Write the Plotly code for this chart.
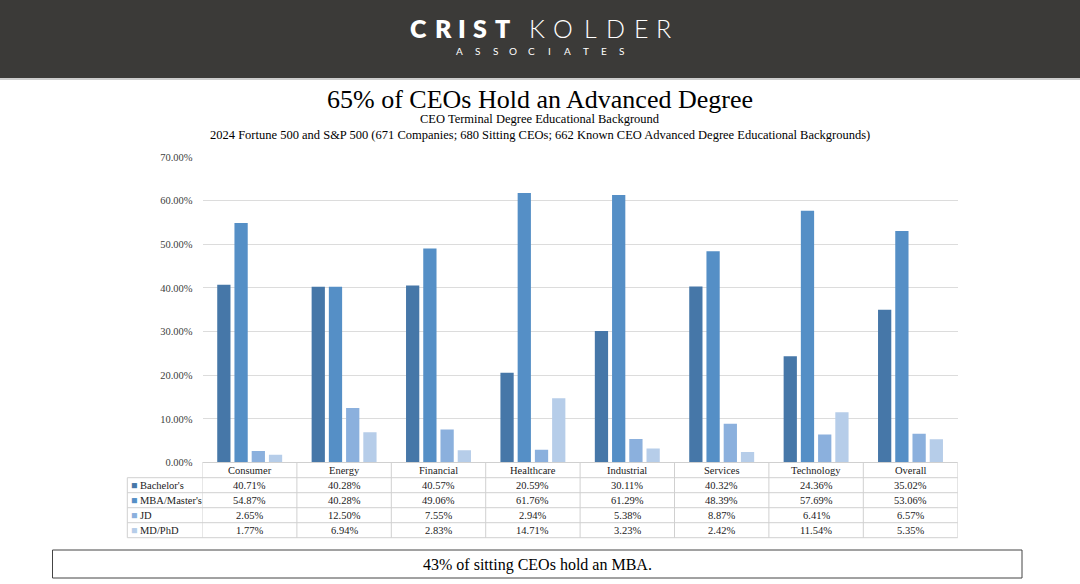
import plotly.graph_objects as go

W, H = 1080, 584

categories = ["Consumer", "Energy", "Financial", "Healthcare", "Industrial", "Services", "Technology", "Overall"]
series_names = ["Bachelor's", "MBA/Master's", "JD", "MD/PhD"]
bachelors = [40.71, 40.28, 40.57, 20.59, 30.11, 40.32, 24.36, 35.02]
mba_masters = [54.87, 40.28, 49.06, 61.76, 61.29, 48.39, 57.69, 53.06]
jd = [2.65, 12.50, 7.55, 2.94, 5.38, 8.87, 6.41, 6.57]
md_phd = [1.77, 6.94, 2.83, 14.71, 3.23, 2.42, 11.54, 5.35]
series_values = [bachelors, mba_masters, jd, md_phd]
colors = ["#4677a8", "#558fc6", "#8bb0dd", "#b6cde9"]
y_ticks = [0, 10, 20, 30, 40, 50, 60, 70]

SERIF = "Liberation Serif, Times New Roman, serif"


def px(x):
    return x / W


def py(y):
    return 1 - y / H


fig = go.Figure()
for name, vals, col in zip(series_names, series_values, colors):
    fig.add_trace(go.Bar(
        x=categories, y=[v / 100 for v in vals], name=name,
        marker=dict(color=col, line=dict(width=0)),
        showlegend=False, hoverinfo="skip",
    ))

x_left, x_right = 202.5, 957.7
y_bottom, y_top = 462.5, 157

fig.update_layout(
    width=W, height=H,
    margin=dict(l=0, r=0, t=0, b=0, autoexpand=False),
    paper_bgcolor="white", plot_bgcolor="white",
    barmode="group", bargap=0.27, bargroupgap=0.23,
    xaxis=dict(domain=[px(x_left), px(x_right)], range=[-0.5, 7.5],
               showticklabels=False, showgrid=False, zeroline=False,
               showline=False, ticks="", fixedrange=True, automargin=False),
    yaxis=dict(domain=[py(y_bottom), py(y_top)], range=[0, 0.7],
               tickvals=[t / 100 for t in y_ticks], tickformat=".2%",
               showgrid=True, gridcolor="#dcdcdc", gridwidth=1,
               zeroline=False, showline=False, ticks="",
               ticklabelstandoff=9, automargin=False,
               tickfont=dict(family=SERIF, size=10.5, color="#404040"),
               fixedrange=True),
    font=dict(family=SERIF),
)

shapes = []
annotations = []

# Header band
shapes.append(dict(type="rect", xref="paper", yref="paper", x0=0, x1=1,
                   y0=py(78), y1=1, fillcolor="#3b3a38", line=dict(width=0), layer="below"))
shapes.append(dict(type="line", xref="paper", yref="paper", x0=0, x1=1,
                   y0=py(79), y1=py(79), line=dict(color="#9a9a9a", width=1)))

logo_top = ["C", "R", "I", "S", "T", "K", "O", "L", "D", "E", "R"]
logo_top_x = [418, 443, 462, 480, 502, 537, 562.5, 590, 615, 641.5, 663]
for i, (ch, x) in enumerate(zip(logo_top, logo_top_x)):
    bold = i < 5
    annotations.append(dict(
        xref="paper", yref="paper", x=px(x), y=py(28.5), text=ch, showarrow=False,
        xanchor="center", yanchor="middle",
        font=dict(family="Lato, Open Sans, sans-serif", size=25, color="white",
                  weight=800 if bold else 300)))
logo_bot = "ASSOCIATES"
for i, ch in enumerate(logo_bot):
    annotations.append(dict(
        xref="paper", yref="paper", x=px(459 + i * 18.1), y=py(51), text=ch, showarrow=False,
        xanchor="center", yanchor="middle",
        font=dict(family="Lato, Open Sans, sans-serif", size=10, color="white")))

# Titles
annotations.append(dict(xref="paper", yref="paper", x=0.5, y=py(99), text="65% of CEOs Hold an Advanced Degree",
                        showarrow=False, xanchor="center", yanchor="middle",
                        font=dict(family=SERIF, size=26, color="black")))
annotations.append(dict(xref="paper", yref="paper", x=0.5, y=py(119.5), text="CEO Terminal Degree Educational Background",
                        showarrow=False, xanchor="center", yanchor="middle",
                        font=dict(family=SERIF, size=12.5, color="black")))
annotations.append(dict(xref="paper", yref="paper", x=0.5, y=py(135),
                        text="2024 Fortune 500 and S&P 500 (671 Companies; 680 Sitting CEOs; 662 Known CEO Advanced Degree Educational Backgrounds)",
                        showarrow=False, xanchor="center", yanchor="middle",
                        font=dict(family=SERIF, size=12.5, color="black")))

# Data table
line_col = "#d0d0d0"
row_lines = [477.7, 492.7, 507.7, 522.7, 537.7]
table_left = 127.3
TFS = 10.5
shapes.append(dict(type="line", xref="paper", yref="paper", x0=px(x_left), x1=px(x_right),
                   y0=py(y_bottom), y1=py(y_bottom), line=dict(color=line_col, width=1)))
for ry in row_lines:
    shapes.append(dict(type="line", xref="paper", yref="paper", x0=px(table_left), x1=px(x_right),
                       y0=py(ry), y1=py(ry), line=dict(color=line_col, width=1)))
shapes.append(dict(type="line", xref="paper", yref="paper", x0=px(table_left), x1=px(table_left),
                   y0=py(row_lines[0]), y1=py(row_lines[-1]), line=dict(color=line_col, width=1)))
for i in range(len(categories) + 1):
    shapes.append(dict(type="line", xref="x", yref="paper", x0=i - 0.5, x1=i - 0.5,
                       y0=py(y_bottom), y1=py(row_lines[-1]), line=dict(color=line_col, width=1)))

header_y = (y_bottom + row_lines[0]) / 2
for c in categories:
    annotations.append(dict(xref="x", yref="paper", x=c, y=py(header_y), text=c, showarrow=False,
                            xanchor="center", yanchor="middle",
                            font=dict(family=SERIF, size=TFS, color="#1a1a1a")))
for r, (name, vals, col) in enumerate(zip(series_names, series_values, colors)):
    cy = (row_lines[r] + row_lines[r + 1]) / 2
    annotations.append(dict(xref="paper", yref="paper", x=px(table_left + 2), y=py(cy),
                            text=f"<span style='color:{col}'>■</span> {name}", showarrow=False,
                            xanchor="left", yanchor="middle",
                            font=dict(family=SERIF, size=TFS, color="#1a1a1a")))
    for c, v in zip(categories, vals):
        annotations.append(dict(xref="x", yref="paper", x=c, y=py(cy), text=f"{v:.2f}%", showarrow=False,
                                xanchor="center", yanchor="middle",
                                font=dict(family=SERIF, size=TFS, color="#1a1a1a")))

# Bottom box
shapes.append(dict(type="rect", xref="paper", yref="paper", x0=px(52.5), x1=px(1022),
                   y0=py(578), y1=py(550), line=dict(color="#444", width=1), fillcolor="rgba(0,0,0,0)"))
annotations.append(dict(xref="paper", yref="paper", x=px(537), y=py(564.5), text="43% of sitting CEOs hold an MBA.",
                        showarrow=False, xanchor="center", yanchor="middle",
                        font=dict(family=SERIF, size=16, color="black")))

fig.update_layout(shapes=shapes, annotations=annotations)
fig.write_html(
    "out.html",
    config={"displayModeBar": False},
    post_script="document.documentElement.style.margin='0';document.documentElement.style.overflow='hidden';"
                "document.body.style.margin='0';document.body.style.padding='0';document.body.style.overflow='hidden';",
)
